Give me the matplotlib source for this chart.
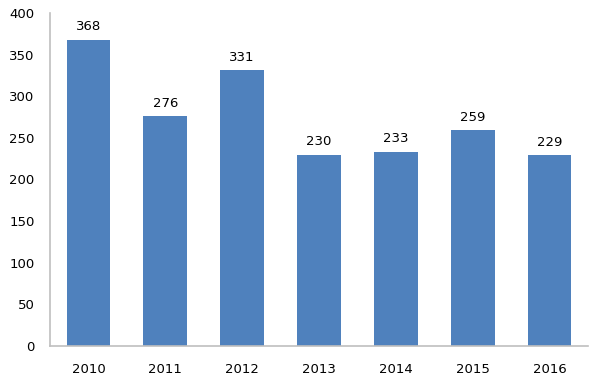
import matplotlib.pyplot as plt
import numpy as np

years = ['2010', '2011', '2012', '2013', '2014', '2015', '2016']
values = [368, 276, 331, 230, 233, 259, 229]

fig = plt.figure(figsize=(6, 3.92), dpi=100)
ax = fig.add_axes([50 / 600, 46 / 392, 538 / 600, 333 / 392])

x = np.arange(len(years))
bars = ax.bar(x, values, width=0.57, color='#4F81BD')

for xi, v in zip(x, values):
    ax.text(xi, v + 8, str(v), ha='center', va='bottom', fontsize=9.5)

ax.set_xlim(-0.5, len(years) - 0.5)
ax.set_ylim(0, 400)
ax.set_yticks(range(0, 401, 50))
ax.set_xticks(x)
ax.set_xticklabels(years)
ax.tick_params(length=0, labelsize=9.5)
ax.tick_params(axis='x', pad=12)
ax.tick_params(axis='y', pad=11)

for side in ['top', 'right']:
    ax.spines[side].set_visible(False)
for side in ['left', 'bottom']:
    ax.spines[side].set_color('#BFBFBF')
    ax.spines[side].set_linewidth(1.2)

fig.savefig('out.png', dpi=100)
